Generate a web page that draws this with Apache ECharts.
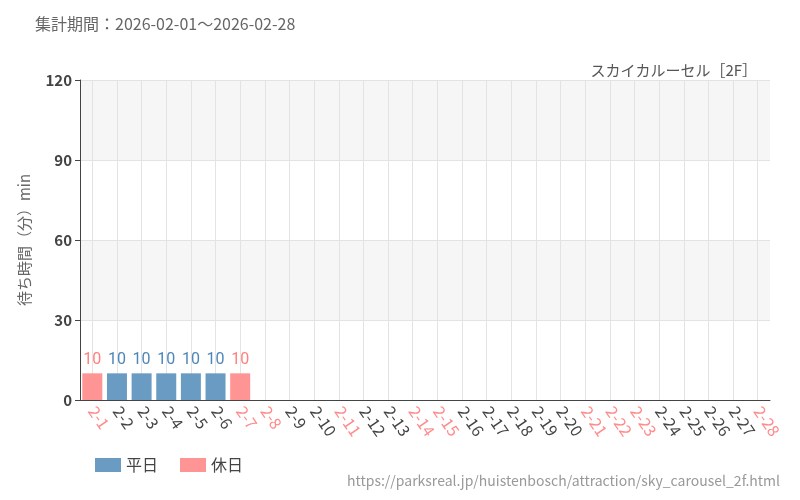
<!DOCTYPE html><html><head><meta charset="utf-8"><script src="https://cdn.jsdelivr.net/npm/echarts@6/dist/echarts.min.js"></script></head><body style="margin:0"><div id="c" style="width:800px;height:500px"></div><script>
const categories=[];for(let d=1;d<=28;d++)categories.push('2-'+d);
const holidays=['2-1','2-7','2-8','2-11','2-14','2-15','2-21','2-22','2-23','2-28'];
const values=[10,10,10,10,10,10,10,null,null,null,null,null,null,null,null,null,null,null,null,null,null,null,null,null,null,null,null,null];
const yTicks=[0,30,60,90,120];
const weekday=categories.map((c,i)=>holidays.includes(c)?null:values[i]);
const holiday=categories.map((c,i)=>holidays.includes(c)?values[i]:null);
const F='"Noto Sans CJK JP","Noto Sans",sans-serif';
const half=690/28/2;
const chart=echarts.init(document.getElementById('c'));
chart.setOption({
textStyle:{fontFamily:F},
title:[{text:'集計期間：2026-02-01～2026-02-28',left:30,top:11,textStyle:{fontSize:16,fontWeight:'normal',color:'#666',fontFamily:F}},
{text:'スカイカルーセル［2F］',right:38,top:58,textStyle:{fontSize:15,fontWeight:'normal',color:'#555',fontFamily:F}}],
legend:{left:90,bottom:22,icon:'rect',itemWidth:26,itemHeight:14,itemGap:22,textStyle:{fontSize:16,color:'#444'},data:['平日','休日']},
graphic:[{type:'text',right:20,bottom:12,style:{text:'https://parksreal.jp/huistenbosch/attraction/sky_carousel_2f.html',fill:'#999',fontSize:14,fontFamily:F}}],
grid:[{left:80,right:30,top:80,bottom:100},{left:80+half,right:30+half,top:80,bottom:100}],
xAxis:[{type:'category',data:categories,gridIndex:0,axisLine:{lineStyle:{color:'#444'}},axisTick:{alignWithLabel:true,lineStyle:{color:'#444'}},
splitLine:{show:false},z:5,
axisLabel:{interval:0,rotate:-55,fontSize:16,margin:8,color:v=>holidays.includes(v)?'#ff8a8a':'#444'}},
{type:'category',data:categories,gridIndex:1,boundaryGap:false,axisLine:{show:false},axisTick:{show:false},axisLabel:{show:false},
splitLine:{show:true,interval:0,lineStyle:{color:'#e3e3e3'}}}],
yAxis:[{type:'value',min:0,max:120,interval:30,name:'待ち時間（分）min',nameLocation:'middle',nameGap:48,nameTextStyle:{fontSize:15,color:'#666'},
axisLine:{show:true,lineStyle:{color:'#444'}},axisTick:{show:true},axisLabel:{fontSize:15,color:'#444',fontWeight:'bold',formatter:v=>yTicks.includes(v)?v:''},
splitLine:{lineStyle:{color:'#e3e3e3'}},splitArea:{show:true,areaStyle:{color:['#fff','#f6f6f6']}}},
{type:'value',gridIndex:1,min:0,max:120,interval:30,show:false}],
series:[{name:'平日',type:'bar',stack:'a',data:weekday,barWidth:20,itemStyle:{color:'#6a9bc3'},label:{show:true,position:'top',color:'#4f86b8',fontSize:16,fontFamily:'"Liberation Sans Narrow","Roboto",sans-serif'}},
{name:'休日',type:'bar',stack:'a',data:holiday,barWidth:20,itemStyle:{color:'#ff9494'},label:{show:true,position:'top',color:'#ff8080',fontSize:16,fontFamily:'"Liberation Sans Narrow","Roboto",sans-serif'}}]
});
</script></body></html>
